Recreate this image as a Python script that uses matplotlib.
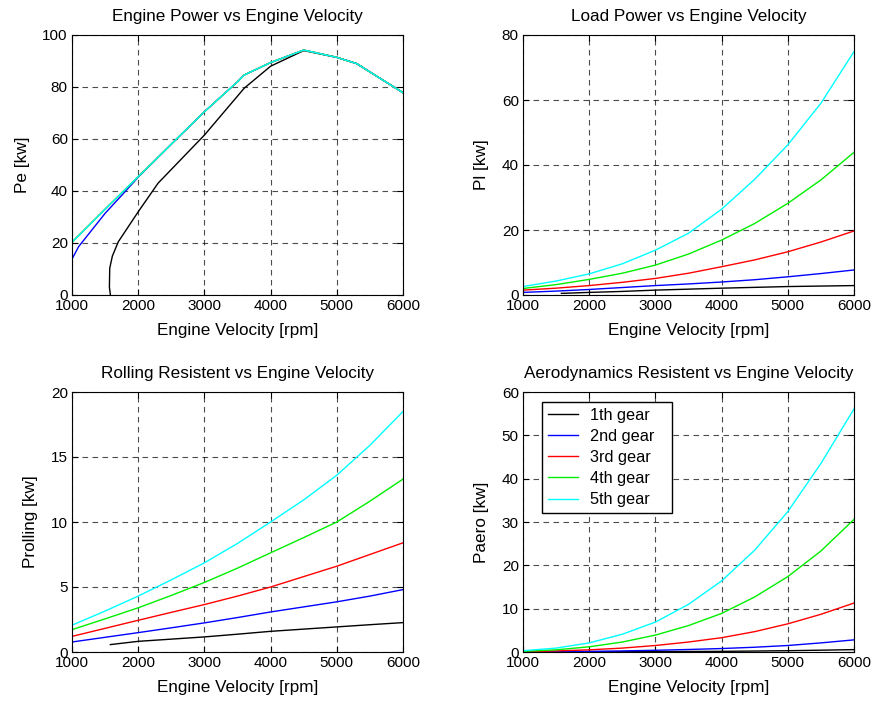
import matplotlib
matplotlib.use('Agg')
import matplotlib.pyplot as plt

plt.rcParams['font.family'] = ['Liberation Sans', 'DejaVu Sans']
plt.rcParams['font.size'] = 11

gears = ['1th gear', '2nd gear', '3rd gear', '4th gear', '5th gear']
colors = ['black', 'blue', 'red', '#00ee00', 'cyan']

# Engine power (same curve for gears 3-5, gear 2 and 1 deviate at low rpm)
rpm_pe = [1000, 1500, 2000, 2500, 3000, 3500, 3600, 4000, 4500, 5000, 5300, 6000]
pe_main = [20.3, 33.0, 45.5, 58.0, 70.5, 82.0, 84.6, 89.4, 94.2, 91.4, 89.0, 77.8]
rpm_pe2 = [1000, 1100, 1500, 1800, 2000, 2500, 3000, 3500, 3600, 4000, 4500, 5000, 5300, 6000]
pe_2 = [13.8, 18.6, 31.4, 39.7, 45.3, 58.0, 70.5, 82.0, 84.6, 89.4, 94.2, 91.4, 89.0, 77.8]
rpm_pe1 = [1580, 1565, 1570, 1610, 1700, 2000, 2300, 3000, 3150, 3600, 4000, 4500, 5000, 5300, 6000]
pe_1 = [0, 3.0, 10.3, 15.0, 20.5, 32.0, 43.0, 61.5, 66.0, 79.5, 88.0, 94.0, 91.4, 89.0, 77.8]

rpm = [1000, 1500, 2000, 2500, 3000, 3500, 4000, 4500, 5000, 5500, 6000]
rpm1 = [1580, 2000, 2500, 3000, 3500, 4000, 4500, 5000, 5500, 6000]

# Load power
pl = {
    0: [0.5, 0.8, 1.1, 1.5, 1.8, 2.1, 2.35, 2.6, 2.75, 2.9],
    1: [0.8, 1.2, 1.7, 2.3, 2.9, 3.4, 4.0, 4.7, 5.6, 6.6, 7.7],
    2: [1.5, 2.1, 2.9, 3.9, 5.1, 6.7, 8.7, 10.8, 13.3, 16.3, 19.7],
    3: [2.0, 3.2, 4.8, 6.7, 9.2, 12.6, 16.9, 22.0, 28.2, 35.4, 43.9],
    4: [2.6, 4.3, 6.5, 9.6, 13.8, 19.0, 26.4, 35.6, 46.2, 59.0, 74.9],
}
# Rolling resistance power
proll = {
    0: [0.57, 0.82, 0.99, 1.16, 1.37, 1.59, 1.76, 1.93, 2.1, 2.26],
    1: [0.77, 1.13, 1.49, 1.86, 2.24, 2.65, 3.08, 3.47, 3.86, 4.3, 4.8],
    2: [1.2, 1.82, 2.44, 3.05, 3.65, 4.3, 5.0, 5.8, 6.6, 7.5, 8.4],
    3: [1.72, 2.55, 3.4, 4.35, 5.35, 6.45, 7.63, 8.8, 10.0, 11.6, 13.3],
    4: [2.06, 3.15, 4.3, 5.55, 6.86, 8.35, 10.0, 11.7, 13.6, 15.9, 18.5],
}
# Aerodynamic resistance power
paero = {
    0: [0.02, 0.03, 0.06, 0.1, 0.12, 0.15, 0.22, 0.3, 0.42, 0.55],
    1: [0.03, 0.08, 0.15, 0.25, 0.4, 0.58, 0.8, 1.1, 1.5, 2.1, 2.8],
    2: [0.08, 0.25, 0.5, 0.9, 1.5, 2.3, 3.3, 4.7, 6.5, 8.7, 11.3],
    3: [0.15, 0.5, 1.2, 2.3, 3.9, 6.1, 8.9, 12.7, 17.4, 23.3, 30.6],
    4: [0.3, 0.9, 2.1, 4.1, 6.9, 11.0, 16.4, 23.5, 32.4, 43.5, 56.1],
}

fig = plt.figure(figsize=(8.77, 7.03), dpi=100)
W, H = 877, 703
def make_ax(l, t, r, b):
    return fig.add_axes([l / W, 1 - b / H, (r - l) / W, (b - t) / H])

ax1 = make_ax(72, 35, 403, 295)
ax2 = make_ax(523, 35, 854, 295)
ax3 = make_ax(72, 392, 403, 652)
ax4 = make_ax(523, 392, 854, 652)

ax1.plot(rpm_pe1, pe_1, color=colors[0], lw=1)
ax1.plot(rpm_pe2, pe_2, color=colors[1], lw=1)
for i in [2, 3, 4]:
    ax1.plot(rpm_pe, pe_main, color=colors[i], lw=1)

for i in range(5):
    x = rpm1 if i == 0 else rpm
    ax2.plot(x, pl[i], color=colors[i], lw=1)
    ax3.plot(x, proll[i], color=colors[i], lw=1)
    ax4.plot(x, paero[i], color=colors[i], lw=1, label=gears[i])

titles = ['Engine Power vs Engine Velocity', 'Load Power vs Engine Velocity',
          'Rolling Resistent vs Engine Velocity', 'Aerodynamics Resistent vs Engine Velocity']
ylabels = ['Pe [kw]', 'Pl [kw]', 'Prolling [kw]', 'Paero [kw]']
ylims = [(0, 100), (0, 80), (0, 20), (0, 60)]
yticks = [range(0, 101, 20), range(0, 81, 20), range(0, 21, 5), range(0, 61, 10)]

for ax, t, yl, lim, yt in zip([ax1, ax2, ax3, ax4], titles, ylabels, ylims, yticks):
    ax.set_xlim(1000, 6000)
    ax.set_ylim(*lim)
    ax.set_xticks(range(1000, 6001, 1000))
    ax.set_yticks(list(yt))
    ax.set_title(t, fontsize=12.3, pad=10)
    ax.set_xlabel('Engine Velocity [rpm]', fontsize=12.3, labelpad=7)
    ax.set_ylabel(yl, fontsize=12.3, labelpad=9)
    ax.grid(True, color='black', linestyle=(0, (5, 4)), lw=0.8, alpha=0.7)
    ax.tick_params(direction='in', top=True, right=True, length=4)
    ax.tick_params(axis='x', pad=3)
    ax.tick_params(axis='y', pad=3)
    for s in ax.spines.values():
        s.set_linewidth(0.8)

ax4.legend(loc='upper left', bbox_to_anchor=(0.057, 0.5, 0.393, 0.462), mode='expand',
           borderaxespad=0, fancybox=False, edgecolor='black', framealpha=1,
           fontsize=11.7, handlelength=1.9, handletextpad=0.7, borderpad=0.35,
           labelspacing=0.38)

fig.savefig('out.png', dpi=100)
